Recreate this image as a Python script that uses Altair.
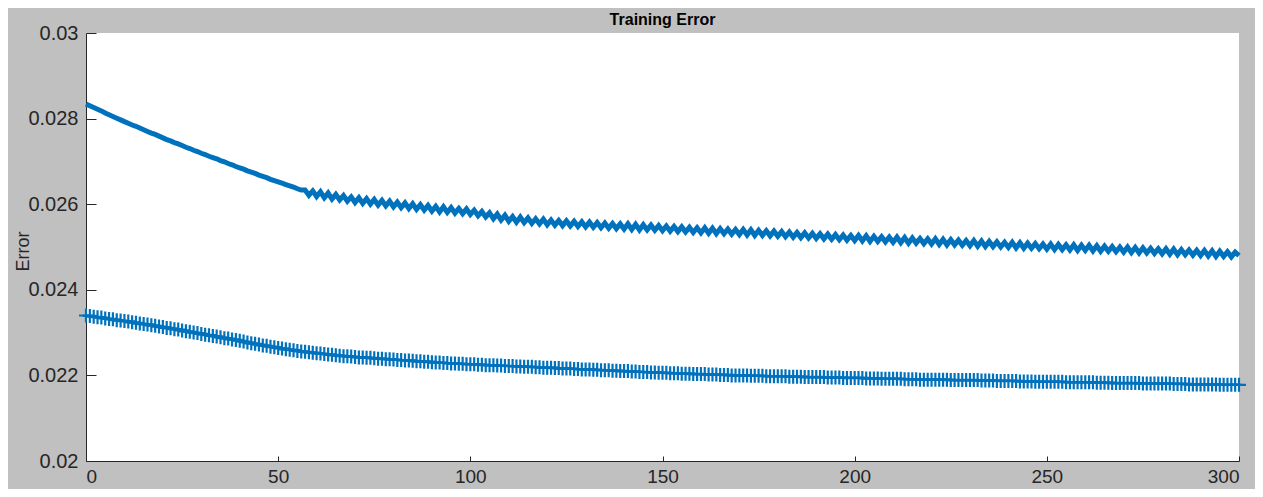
import altair as alt
import pandas as pd

epochs = list(range(0, 301))

upper_error = [
    0.02834, 0.02830, 0.02826, 0.02822, 0.02818, 0.02813, 0.02809, 0.02805, 0.02801, 0.02797,
    0.02793, 0.02789, 0.02785, 0.02782, 0.02778, 0.02774, 0.02770, 0.02766, 0.02763, 0.02759,
    0.02755, 0.02751, 0.02748, 0.02744, 0.02741, 0.02737, 0.02733, 0.02730, 0.02726, 0.02723,
    0.02719, 0.02716, 0.02712, 0.02709, 0.02706, 0.02702, 0.02699, 0.02695, 0.02692, 0.02688,
    0.02685, 0.02682, 0.02678, 0.02675, 0.02672, 0.02668, 0.02665, 0.02662, 0.02658, 0.02655,
    0.02652, 0.02649, 0.02646, 0.02643, 0.02640, 0.02636, 0.02633, 0.02633, 0.02621, 0.02631,
    0.02618, 0.02629, 0.02615, 0.02626, 0.02612, 0.02623, 0.02610, 0.02620, 0.02607, 0.02617,
    0.02604, 0.02615, 0.02602, 0.02613, 0.02600, 0.02611, 0.02598, 0.02609, 0.02596, 0.02607,
    0.02594, 0.02605, 0.02592, 0.02603, 0.02590, 0.02601, 0.02588, 0.02599, 0.02586, 0.02597,
    0.02584, 0.02595, 0.02582, 0.02594, 0.02581, 0.02592, 0.02579, 0.02590, 0.02578, 0.02589,
    0.02576, 0.02586, 0.02573, 0.02583, 0.02570, 0.02580, 0.02566, 0.02577, 0.02563, 0.02574,
    0.02560, 0.02571, 0.02558, 0.02570, 0.02557, 0.02568, 0.02555, 0.02566, 0.02554, 0.02565,
    0.02552, 0.02563, 0.02551, 0.02562, 0.02550, 0.02561, 0.02549, 0.02560, 0.02548, 0.02559,
    0.02547, 0.02558, 0.02546, 0.02557, 0.02545, 0.02556, 0.02544, 0.02555, 0.02543, 0.02554,
    0.02542, 0.02554, 0.02541, 0.02553, 0.02540, 0.02552, 0.02540, 0.02551, 0.02539, 0.02550,
    0.02538, 0.02549, 0.02537, 0.02548, 0.02536, 0.02547, 0.02535, 0.02546, 0.02534, 0.02545,
    0.02533, 0.02545, 0.02532, 0.02544, 0.02531, 0.02543, 0.02531, 0.02542, 0.02530, 0.02541,
    0.02529, 0.02541, 0.02528, 0.02540, 0.02527, 0.02539, 0.02527, 0.02538, 0.02526, 0.02537,
    0.02525, 0.02536, 0.02524, 0.02535, 0.02523, 0.02534, 0.02522, 0.02533, 0.02521, 0.02532,
    0.02520, 0.02531, 0.02519, 0.02530, 0.02518, 0.02529, 0.02517, 0.02528, 0.02516, 0.02527,
    0.02515, 0.02527, 0.02514, 0.02526, 0.02513, 0.02525, 0.02513, 0.02524, 0.02512, 0.02523,
    0.02511, 0.02523, 0.02510, 0.02522, 0.02509, 0.02521, 0.02509, 0.02520, 0.02508, 0.02519,
    0.02507, 0.02519, 0.02506, 0.02518, 0.02505, 0.02517, 0.02505, 0.02516, 0.02504, 0.02515,
    0.02503, 0.02515, 0.02502, 0.02514, 0.02501, 0.02513, 0.02501, 0.02512, 0.02500, 0.02511,
    0.02499, 0.02511, 0.02498, 0.02510, 0.02497, 0.02509, 0.02497, 0.02508, 0.02496, 0.02507,
    0.02495, 0.02507, 0.02494, 0.02506, 0.02494, 0.02505, 0.02493, 0.02505, 0.02492, 0.02504,
    0.02492, 0.02504, 0.02491, 0.02503, 0.02490, 0.02502, 0.02490, 0.02501, 0.02489, 0.02500,
    0.02488, 0.02500, 0.02487, 0.02499, 0.02486, 0.02498, 0.02486, 0.02497, 0.02485, 0.02496,
    0.02484, 0.02496, 0.02483, 0.02495, 0.02482, 0.02494, 0.02482, 0.02493, 0.02481, 0.02492,
    0.02480, 0.02492, 0.02479, 0.02491, 0.02478, 0.02490, 0.02478, 0.02489, 0.02477, 0.02488,
    0.02480,
]

lower_error = [
    0.02340, 0.02339, 0.02337, 0.02336, 0.02335, 0.02333, 0.02332, 0.02331, 0.02329, 0.02328,
    0.02327, 0.02326, 0.02324, 0.02323, 0.02321, 0.02320, 0.02319, 0.02317, 0.02316, 0.02314,
    0.02313, 0.02311, 0.02310, 0.02308, 0.02307, 0.02305, 0.02303, 0.02302, 0.02300, 0.02299,
    0.02297, 0.02295, 0.02294, 0.02292, 0.02291, 0.02289, 0.02287, 0.02286, 0.02284, 0.02283,
    0.02281, 0.02279, 0.02277, 0.02275, 0.02274, 0.02272, 0.02270, 0.02269, 0.02267, 0.02266,
    0.02264, 0.02263, 0.02261, 0.02260, 0.02259, 0.02257, 0.02256, 0.02255, 0.02254, 0.02253,
    0.02252, 0.02251, 0.02250, 0.02249, 0.02248, 0.02247, 0.02246, 0.02245, 0.02245, 0.02244,
    0.02243, 0.02242, 0.02242, 0.02241, 0.02241, 0.02240, 0.02239, 0.02239, 0.02238, 0.02238,
    0.02237, 0.02236, 0.02236, 0.02235, 0.02235, 0.02234, 0.02233, 0.02233, 0.02232, 0.02232,
    0.02231, 0.02230, 0.02230, 0.02229, 0.02229, 0.02228, 0.02228, 0.02227, 0.02227, 0.02226,
    0.02226, 0.02226, 0.02225, 0.02225, 0.02224, 0.02224, 0.02224, 0.02223, 0.02223, 0.02222,
    0.02222, 0.02222, 0.02221, 0.02221, 0.02220, 0.02220, 0.02220, 0.02219, 0.02219, 0.02218,
    0.02218, 0.02218, 0.02217, 0.02217, 0.02216, 0.02216, 0.02216, 0.02215, 0.02215, 0.02214,
    0.02214, 0.02214, 0.02213, 0.02213, 0.02212, 0.02212, 0.02212, 0.02211, 0.02211, 0.02210,
    0.02210, 0.02210, 0.02209, 0.02209, 0.02208, 0.02208, 0.02208, 0.02207, 0.02207, 0.02206,
    0.02206, 0.02206, 0.02205, 0.02205, 0.02205, 0.02204, 0.02204, 0.02204, 0.02203, 0.02203,
    0.02203, 0.02203, 0.02202, 0.02202, 0.02202, 0.02201, 0.02201, 0.02201, 0.02200, 0.02200,
    0.02200, 0.02200, 0.02200, 0.02199, 0.02199, 0.02199, 0.02199, 0.02198, 0.02198, 0.02198,
    0.02198, 0.02198, 0.02198, 0.02197, 0.02197, 0.02197, 0.02197, 0.02196, 0.02196, 0.02196,
    0.02196, 0.02196, 0.02196, 0.02195, 0.02195, 0.02195, 0.02195, 0.02194, 0.02194, 0.02194,
    0.02194, 0.02194, 0.02194, 0.02193, 0.02193, 0.02193, 0.02193, 0.02192, 0.02192, 0.02192,
    0.02192, 0.02192, 0.02192, 0.02191, 0.02191, 0.02191, 0.02191, 0.02190, 0.02190, 0.02190,
    0.02190, 0.02190, 0.02190, 0.02190, 0.02190, 0.02189, 0.02189, 0.02189, 0.02189, 0.02189,
    0.02189, 0.02189, 0.02189, 0.02188, 0.02188, 0.02188, 0.02188, 0.02187, 0.02187, 0.02187,
    0.02187, 0.02187, 0.02187, 0.02186, 0.02186, 0.02186, 0.02186, 0.02185, 0.02185, 0.02185,
    0.02185, 0.02185, 0.02185, 0.02185, 0.02185, 0.02184, 0.02184, 0.02184, 0.02184, 0.02184,
    0.02184, 0.02184, 0.02184, 0.02183, 0.02183, 0.02183, 0.02183, 0.02182, 0.02182, 0.02182,
    0.02182, 0.02182, 0.02182, 0.02182, 0.02182, 0.02181, 0.02181, 0.02181, 0.02181, 0.02181,
    0.02181, 0.02181, 0.02181, 0.02180, 0.02180, 0.02180, 0.02180, 0.02179, 0.02179, 0.02179,
    0.02179, 0.02179, 0.02179, 0.02179, 0.02179, 0.02178, 0.02178, 0.02178, 0.02178, 0.02178,
    0.02178,
]

x_tick_values = [0, 50, 100, 150, 200, 250, 300]
y_tick_values = [0.02, 0.022, 0.024, 0.026, 0.028, 0.03]

df = pd.DataFrame({"epoch": epochs, "upper": upper_error, "lower": lower_error})

BLUE = "#0072BD"
AX = "#262626"
FONT = "Liberation Sans Narrow, Arial Narrow, Liberation Sans, Arial, sans-serif"

xs = alt.Scale(domain=[0, 300], nice=False, zero=False)
ys = alt.Scale(domain=[0.02, 0.03], nice=False, zero=False)

x_main = alt.Axis(
    orient="bottom", values=x_tick_values, ticks=False, tickSize=0,
    labelPadding=6, domain=True, domainColor=AX, domainWidth=1, grid=False,
    labelFont=FONT, labelFontSize=19, labelColor=AX, title=None,
)
y_main = alt.Axis(
    orient="left", values=y_tick_values, format=".3~f", ticks=False, tickSize=0,
    labelPadding=8, domain=True, domainColor=AX, domainWidth=1, grid=False,
    labelFont=FONT, labelFontSize=20, labelColor=AX,
    title="Error", titleFont=FONT, titleFontSize=18, titleFontWeight="normal",
    titleColor=AX, titleX=-63, titleY=218, titleAngle=270,
    titleAlign="center", titleBaseline="middle",
)
x_tick_axis = alt.Axis(
    orient="bottom", values=x_tick_values, offset=-5, ticks=True, tickSize=5,
    tickColor=AX, tickWidth=1, labels=False, domain=False, grid=False, title=None,
)
y_tick_axis = alt.Axis(
    orient="left", values=y_tick_values, offset=-10, ticks=True, tickSize=10,
    tickColor=AX, tickWidth=1, labels=False, domain=False, grid=False, title=None,
)

upper_line = alt.Chart(df).mark_line(color=BLUE, strokeWidth=5).encode(
    x=alt.X("epoch:Q", scale=xs, axis=x_main),
    y=alt.Y("upper:Q", scale=ys, axis=y_main),
)
lower_line = alt.Chart(df).mark_line(color=BLUE, strokeWidth=2.5).encode(
    x=alt.X("epoch:Q", scale=xs, axis=None),
    y=alt.Y("lower:Q", scale=ys, axis=None),
)
lower_pts = alt.Chart(df).mark_point(
    shape="M0,-1L0,1M-1,0L1,0", size=196, filled=False, color=BLUE,
    strokeWidth=2.2, opacity=1,
).encode(
    x=alt.X("epoch:Q", scale=xs, axis=x_tick_axis),
    y=alt.Y("lower:Q", scale=ys, axis=y_tick_axis),
)

chart = (
    alt.layer(upper_line, lower_line, lower_pts)
    .resolve_axis(x="independent", y="independent")
    .properties(
        width=1153,
        height=428,
        autosize=alt.AutoSizeParams(type="none"),
        padding={"left": 78, "top": 25, "right": 16, "bottom": 28},
        background="#c0c0c0",
        title=alt.TitleParams(
            "Training Error", font="Liberation Sans", fontSize=16,
            fontWeight="bold", color="#000000", anchor="middle",
            frame="group", offset=-5,
        ),
    )
    .configure_view(stroke=None, fill="white")
)

chart.save("out.html", embed_options={"renderer": "svg", "actions": False})
